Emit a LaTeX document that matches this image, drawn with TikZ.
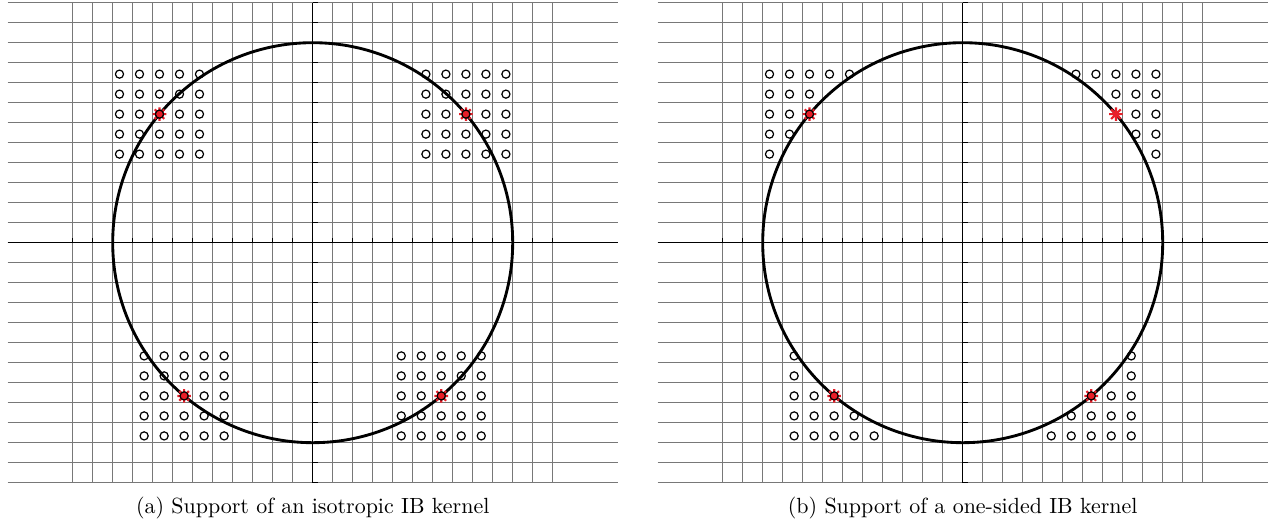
\documentclass[tikz,border=0pt]{standalone}
\definecolor{MarkRed}{RGB}{232,30,40}
\definecolor{GridGray}{RGB}{120,120,120}
\usepackage{tikz}

\begin{document}
\begin{tikzpicture}[x=0.32cm,y=0.32cm,
    gridline/.style={GridGray,line width=0.5pt},
    axisline/.style={black,line width=0.65pt},
    ring/.style={black,line width=1.3pt},
    dot/.style={circle,draw=black,line width=0.55pt,inner sep=0pt,minimum size=3.7pt},
    hitdot/.style={dot,fill=MarkRed},
    spoke/.style={MarkRed,line width=1pt}]
    \useasboundingbox (-15.635,-14.215) rectangle (48.015,12.135);
    % same grid, axes and circle in both panels
    \foreach \cx/\tag in {0/iso,32.5/one} {
        \begin{scope}[shift={(\cx,0)}]
            \foreach \k in {-12,...,12} {
                \draw[gridline] (-15.25,\k) -- (15.25,\k);
                \draw[gridline] (\k,-12) -- (\k,12);
                \draw[axisline] (\k,0) -- (\k,0.25);
                \draw[axisline] (0,\k) -- (0.25,\k);
            }
            \draw[axisline] (-15.25,0) -- (15.25,0);
            \draw[axisline] (0,-12) -- (0,12);
            \coordinate (\tag-o) at (0,0);
            \draw[ring] (\tag-o) circle (10);
            \foreach \t in {40,140,230,310}
                \coordinate (\tag-hit-\t) at (\t:10);
        \end{scope}
    }
    % (a) isotropic: full 5x5 stencil
    \foreach \t in {40,140,230,310} {
        \foreach \i in {-2,...,2} \foreach \j in {-2,...,2}
            \node[dot] (iso-\t-\i-\j) at ([shift={(\i,\j)}]iso-hit-\t) {};
        \draw[spoke] \foreach \a in {0,45,...,315} {(iso-hit-\t) -- ++(\a:0.34)};
        \node[hitdot] (iso-mark-\t) at (iso-hit-\t) {};
    }
    % (b) one-sided: only points outside the circle
    \foreach \t in {40,140,230,310} {
        \foreach \i in {-2,...,2} \foreach \j in {-2,...,2} {
            \pgfmathtruncatemacro\keep{veclen(10*cos(\t)+\i,10*sin(\t)+\j)>10.005}
            \ifnum\keep=1
                \node[dot] (one-\t-\i-\j) at ([shift={(\i,\j)}]one-hit-\t) {};
            \fi
        }
        \draw[spoke] \foreach \a in {0,45,...,315} {(one-hit-\t) -- ++(\a:0.34)};
    }
    \foreach \t in {140,230,310}
        \node[hitdot] (one-mark-\t) at (one-hit-\t) {};
    % captions
    \node (capA) at (0,-13.28) {(a) Support of an isotropic IB kernel};
    \node (capB) at (32.5,-13.28) {(b) Support of a one-sided IB kernel};
\end{tikzpicture}
\end{document}
